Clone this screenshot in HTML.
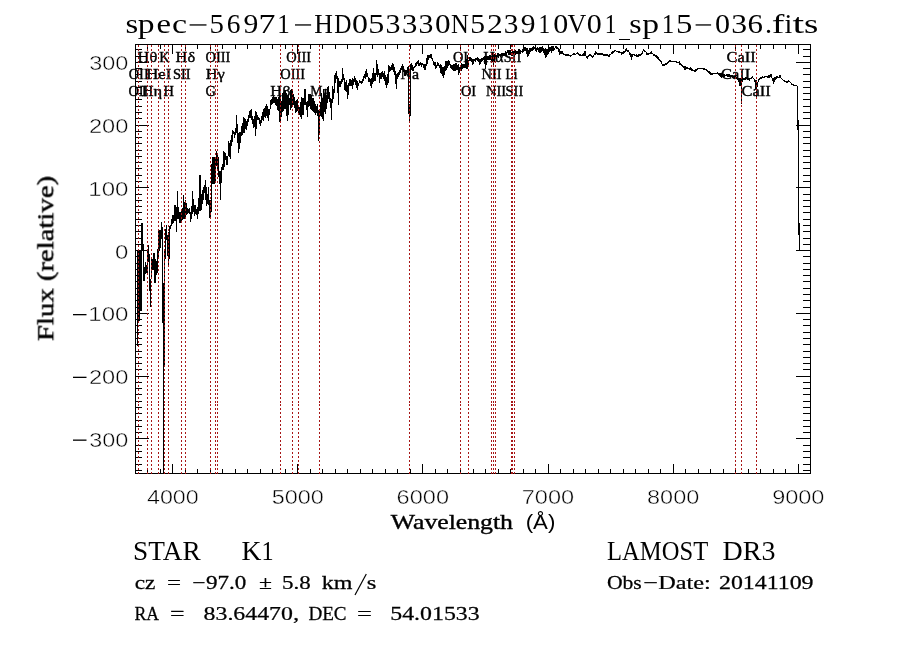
<!DOCTYPE html>
<html><head><meta charset="utf-8"><title>spec-56971-HD053330N523910V01_sp15-036.fits</title>
<style>html,body{margin:0;padding:0;background:#fff;}body{width:900px;height:649px;overflow:hidden;font-family:"Liberation Serif",serif;}svg{display:block;}text{font-family:"Liberation Serif",serif;fill:#000;}.sans{font-family:"Liberation Sans",sans-serif;}</style></head><body>
<svg width="900" height="649" viewBox="0 0 900 649">
<rect x="0" y="0" width="900" height="649" fill="#fff"/>
<g shape-rendering="crispEdges" stroke="#000" stroke-width="1" fill="none">
<rect x="135.5" y="44.5" width="675" height="429"/>
<path d="M147.5 45v4M147.5 473v-4M160.5 45v4M160.5 473v-4M172.5 45v9M172.5 473v-9M185.5 45v4M185.5 473v-4M197.5 45v4M197.5 473v-4M210.5 45v4M210.5 473v-4M222.5 45v4M222.5 473v-4M235.5 45v4M235.5 473v-4M247.5 45v4M247.5 473v-4M260.5 45v4M260.5 473v-4M272.5 45v4M272.5 473v-4M285.5 45v4M285.5 473v-4M297.5 45v9M297.5 473v-9M310.5 45v4M310.5 473v-4M322.5 45v4M322.5 473v-4M335.5 45v4M335.5 473v-4M347.5 45v4M347.5 473v-4M360.5 45v4M360.5 473v-4M372.5 45v4M372.5 473v-4M385.5 45v4M385.5 473v-4M397.5 45v4M397.5 473v-4M410.5 45v4M410.5 473v-4M422.5 45v9M422.5 473v-9M435.5 45v4M435.5 473v-4M447.5 45v4M447.5 473v-4M460.5 45v4M460.5 473v-4M473.5 45v4M473.5 473v-4M485.5 45v4M485.5 473v-4M498.5 45v4M498.5 473v-4M510.5 45v4M510.5 473v-4M523.5 45v4M523.5 473v-4M535.5 45v4M535.5 473v-4M548.5 45v9M548.5 473v-9M560.5 45v4M560.5 473v-4M573.5 45v4M573.5 473v-4M585.5 45v4M585.5 473v-4M598.5 45v4M598.5 473v-4M610.5 45v4M610.5 473v-4M623.5 45v4M623.5 473v-4M635.5 45v4M635.5 473v-4M648.5 45v4M648.5 473v-4M660.5 45v4M660.5 473v-4M673.5 45v9M673.5 473v-9M685.5 45v4M685.5 473v-4M698.5 45v4M698.5 473v-4M710.5 45v4M710.5 473v-4M723.5 45v4M723.5 473v-4M735.5 45v4M735.5 473v-4M748.5 45v4M748.5 473v-4M760.5 45v4M760.5 473v-4M773.5 45v4M773.5 473v-4M785.5 45v4M785.5 473v-4M798.5 45v9M798.5 473v-9M136 470.5h6M810 470.5h-7M136 464.5h6M810 464.5h-7M136 457.5h6M810 457.5h-7M136 451.5h6M810 451.5h-7M136 445.5h6M810 445.5h-7M136 438.5h13M810 438.5h-14M136 432.5h6M810 432.5h-7M136 426.5h6M810 426.5h-7M136 420.5h6M810 420.5h-7M136 413.5h6M810 413.5h-7M136 407.5h6M810 407.5h-7M136 401.5h6M810 401.5h-7M136 394.5h6M810 394.5h-7M136 388.5h6M810 388.5h-7M136 382.5h6M810 382.5h-7M136 376.5h13M810 376.5h-14M136 369.5h6M810 369.5h-7M136 363.5h6M810 363.5h-7M136 357.5h6M810 357.5h-7M136 351.5h6M810 351.5h-7M136 344.5h6M810 344.5h-7M136 338.5h6M810 338.5h-7M136 332.5h6M810 332.5h-7M136 325.5h6M810 325.5h-7M136 319.5h6M810 319.5h-7M136 313.5h13M810 313.5h-14M136 307.5h6M810 307.5h-7M136 300.5h6M810 300.5h-7M136 294.5h6M810 294.5h-7M136 288.5h6M810 288.5h-7M136 281.5h6M810 281.5h-7M136 275.5h6M810 275.5h-7M136 269.5h6M810 269.5h-7M136 263.5h6M810 263.5h-7M136 256.5h6M810 256.5h-7M136 250.5h13M810 250.5h-14M136 244.5h6M810 244.5h-7M136 238.5h6M810 238.5h-7M136 231.5h6M810 231.5h-7M136 225.5h6M810 225.5h-7M136 219.5h6M810 219.5h-7M136 212.5h6M810 212.5h-7M136 206.5h6M810 206.5h-7M136 200.5h6M810 200.5h-7M136 194.5h6M810 194.5h-7M136 187.5h13M810 187.5h-14M136 181.5h6M810 181.5h-7M136 175.5h6M810 175.5h-7M136 168.5h6M810 168.5h-7M136 162.5h6M810 162.5h-7M136 156.5h6M810 156.5h-7M136 150.5h6M810 150.5h-7M136 143.5h6M810 143.5h-7M136 137.5h6M810 137.5h-7M136 131.5h6M810 131.5h-7M136 125.5h13M810 125.5h-14M136 118.5h6M810 118.5h-7M136 112.5h6M810 112.5h-7M136 106.5h6M810 106.5h-7M136 99.5h6M810 99.5h-7M136 93.5h6M810 93.5h-7M136 87.5h6M810 87.5h-7M136 81.5h6M810 81.5h-7M136 74.5h6M810 74.5h-7M136 68.5h6M810 68.5h-7M136 62.5h13M810 62.5h-14M136 56.5h6M810 56.5h-7M136 49.5h6M810 49.5h-7"/>
</g>
<path shape-rendering="crispEdges" stroke="#000" stroke-width="1" fill="none" d="M137.5 250V346M138.5 250V321M139.5 250V321M140.5 250V311M141.5 223V311M142.5 223V251M143.5 244V281M144.5 267V281M145.5 262V274M146.5 265V273M147.5 249V273M148.5 245V262M149.5 254V291M150.5 279V307M151.5 258V279M152.5 259V270M153.5 253V270M154.5 253V283M155.5 259V283M156.5 261V275M157.5 249V273M158.5 230V258M159.5 230V251M160.5 230V248M161.5 222V239M162.5 227V323M163.5 283V473M164.5 251V367M165.5 229V259M166.5 225V240M167.5 235V256M168.5 232V267M169.5 226V259M170.5 225V229M171.5 219V226M172.5 215V224M173.5 215V223M174.5 205V221M175.5 205V221M176.5 207V232M177.5 191V219M178.5 207V219M179.5 212V223M180.5 212V223M181.5 210V221M182.5 208V220M183.5 195V219M184.5 202V219M185.5 200V218M186.5 203V215M187.5 208V214M188.5 209V213M189.5 208V214M190.5 212V222M191.5 206V219M192.5 191V214M193.5 199V212M194.5 205V216M195.5 205V214M196.5 209V215M197.5 207V219M198.5 198V214M199.5 175V211M200.5 175V211M201.5 194V210M202.5 190V204M203.5 187V200M204.5 185V193M205.5 180V200M206.5 187V206M207.5 194V204M208.5 187V205M209.5 200V218M210.5 200V218M211.5 164V212M212.5 157V184M213.5 157V184M214.5 157V184M215.5 157V183M216.5 151V166M217.5 155V170M218.5 157V177M219.5 171V184M220.5 171V200M221.5 167V183M222.5 164V170M223.5 151V170M224.5 152V167M225.5 153V160M226.5 156V165M227.5 156V165M228.5 141V156M229.5 143V157M230.5 140V159M231.5 135V146M232.5 130V142M233.5 131V134M234.5 132V138M235.5 128V135M236.5 115V133M237.5 124V143M238.5 133V153M239.5 132V149M240.5 132V143M241.5 126V136M242.5 123V135M243.5 117V133M244.5 118V133M245.5 119V129M246.5 121V130M247.5 119V126M248.5 115V122M249.5 111V118M250.5 110V118M251.5 109V120M252.5 116V124M253.5 119V128M254.5 116V127M255.5 111V136M256.5 112V129M257.5 115V120M258.5 117V120M259.5 118V124M260.5 120V126M261.5 116V123M262.5 112V120M263.5 109V121M264.5 108V117M265.5 106V118M266.5 104V116M267.5 106V118M268.5 109V121M269.5 109V115M270.5 100V109M271.5 99V105M272.5 97V104M273.5 96V103M274.5 97V103M275.5 97V105M276.5 97V106M277.5 99V110M278.5 97V111M279.5 96V122M280.5 96V122M281.5 101V117M282.5 93V112M283.5 92V111M284.5 90V109M285.5 90V109M286.5 93V116M287.5 95V121M288.5 94V115M289.5 98V105M290.5 90V110M291.5 89V108M292.5 91V105M293.5 94V105M294.5 97V108M295.5 101V113M296.5 100V112M297.5 99V111M298.5 105V113M299.5 107V115M300.5 102V117M301.5 97V119M302.5 98V115M303.5 98V115M304.5 89V105M305.5 89V105M306.5 102V110M307.5 101V117M308.5 94V107M309.5 94V106M310.5 94V109M311.5 95V110M312.5 98V111M313.5 98V112M314.5 101V113M315.5 104V115M316.5 106V113M317.5 104V116M318.5 110V141M319.5 109V133M320.5 102V116M321.5 93V117M322.5 98V119M323.5 89V121M324.5 94V112M325.5 89V114M326.5 95V109M327.5 87V103M328.5 86V99M329.5 92V102M330.5 98V108M331.5 99V120M332.5 86V103M333.5 89V99M334.5 75V93M335.5 73V83M336.5 71V79M337.5 76V93M338.5 78V105M339.5 81V87M340.5 81V87M341.5 79V84M342.5 68V82M343.5 74V80M344.5 78V90M345.5 82V91M346.5 80V92M347.5 85V99M348.5 83V95M349.5 79V86M350.5 79V86M351.5 80V86M352.5 78V89M353.5 79V85M354.5 76V82M355.5 78V85M356.5 80V88M357.5 81V90M358.5 83V86M359.5 80V83M360.5 81V83M361.5 81V84M362.5 79V83M363.5 76V81M364.5 74V78M365.5 71V79M366.5 69V77M367.5 73V77M368.5 77V82M369.5 78V82M370.5 79V86M371.5 78V88M372.5 73V84M373.5 68V82M374.5 73V81M375.5 73V81M376.5 60V75M377.5 64V77M378.5 69V75M379.5 73V83M380.5 73V79M381.5 72V79M382.5 71V77M383.5 73V79M384.5 71V81M385.5 75V85M386.5 77V88M387.5 74V85M388.5 65V83M389.5 66V72M390.5 67V71M391.5 65V70M392.5 63V70M393.5 64V72M394.5 67V75M395.5 71V84M396.5 74V89M397.5 73V79M398.5 72V77M399.5 70V75M400.5 68V73M401.5 66V70M402.5 64V70M403.5 66V72M404.5 70V76M405.5 70V76M406.5 70V74M407.5 67V73M408.5 66V114M409.5 104V122M410.5 64V116M411.5 63V70M412.5 65V71M413.5 67V71M414.5 66V68M415.5 63V67M416.5 62V66M417.5 61V64M418.5 60V66M419.5 63V66M420.5 62V65M421.5 63V67M422.5 63V65M423.5 64V68M424.5 64V70M425.5 64V70M426.5 58V66M427.5 55V64M428.5 55V60M429.5 55V58M430.5 54V58M431.5 54V59M432.5 58V61M433.5 61V65M434.5 62V66M435.5 62V69M436.5 65V68M437.5 62V66M438.5 63V66M439.5 65V68M440.5 64V73M441.5 65V74M442.5 67V76M443.5 67V78M444.5 66V75M445.5 61V71M446.5 61V70M447.5 61V68M448.5 60V66M449.5 61V65M450.5 64V68M451.5 65V69M452.5 65V70M453.5 64V71M454.5 64V71M455.5 63V71M456.5 63V70M457.5 65V70M458.5 64V75M459.5 67V73M460.5 65V69M461.5 63V71M462.5 64V69M463.5 64V68M464.5 64V68M465.5 59V68M466.5 59V69M467.5 55V69M468.5 60V67M469.5 57V61M470.5 57V61M471.5 58V62M472.5 59V65M473.5 59V64M474.5 59V61M475.5 58V62M476.5 58V60M477.5 57V61M478.5 58V62M479.5 59V65M480.5 59V64M481.5 58V62M482.5 58V61M483.5 57V60M484.5 56V64M485.5 56V69M486.5 56V65M487.5 56V60M488.5 57V60M489.5 55V60M490.5 55V60M491.5 57V61M492.5 56V62M493.5 55V65M494.5 54V62M495.5 54V59M496.5 55V59M497.5 53V57M498.5 53V58M499.5 54V56M500.5 54V57M501.5 53V56M502.5 53V56M503.5 53V56M504.5 53V56M505.5 51V56M506.5 52V56M507.5 50V53M508.5 50V55M509.5 50V55M510.5 50V55M511.5 52V56M512.5 50V56M513.5 51V54M514.5 51V55M515.5 50V55M516.5 51V54M517.5 51V54M518.5 49V54M519.5 49V54M520.5 50V54M521.5 51V52M522.5 49V53M523.5 49V52M524.5 47V51M525.5 47V51M526.5 48V54M527.5 48V57M528.5 50V56M529.5 48V54M530.5 48V52M531.5 48V51M532.5 47V51M533.5 46V50M534.5 47V49M535.5 48V51M536.5 48V52M537.5 47V50M538.5 48V52M539.5 47V53M540.5 47V53M541.5 47V52M542.5 46V51M543.5 48V53M544.5 49V55M545.5 48V58M546.5 49V57M547.5 49V55M548.5 47V54M549.5 47V52M550.5 47V51M551.5 46V53M552.5 46V51M553.5 46V51M554.5 48V50M555.5 46V48M556.5 46V49M557.5 47V49M558.5 48V52M559.5 49V55M560.5 51V54M561.5 51V54M562.5 51V54M563.5 53V55M564.5 54V55M565.5 54V56M566.5 54V56M567.5 54V56M568.5 54V56M569.5 55V56M570.5 55V57M571.5 55V56M572.5 54V55M573.5 53V55M574.5 53V55M575.5 54V55M576.5 53V54M577.5 52V54M578.5 53V55M579.5 54V56M580.5 54V56M581.5 55V56M582.5 54V56M583.5 53V56M584.5 51V56M585.5 51V56M586.5 56V58M587.5 56V59M588.5 55V57M589.5 54V56M590.5 54V56M591.5 55V57M592.5 56V58M593.5 55V57M594.5 53V55M595.5 51V55M596.5 52V54M597.5 53V55M598.5 53V55M599.5 53V55M600.5 53V55M601.5 53V55M602.5 53V55M603.5 54V56M604.5 54V56M605.5 54V56M606.5 54V56M607.5 54V56M608.5 55V57M609.5 54V57M610.5 54V55M611.5 52V54M612.5 51V54M613.5 51V53M614.5 50V52M615.5 50V51M616.5 51V52M617.5 51V52M618.5 51V53M619.5 51V53M620.5 52V53M621.5 52V55M622.5 52V54M623.5 51V54M624.5 51V53M625.5 49V52M626.5 48V51M627.5 50V52M628.5 50V52M629.5 52V55M630.5 53V57M631.5 54V60M632.5 54V57M633.5 54V55M634.5 54V56M635.5 55V56M636.5 54V57M637.5 55V57M638.5 54V57M639.5 54V56M640.5 54V56M641.5 53V55M642.5 51V54M643.5 49V51M644.5 50V52M645.5 51V52M646.5 52V55M647.5 53V55M648.5 53V55M649.5 53V54M650.5 52V54M651.5 51V54M652.5 53V54M653.5 54V56M654.5 54V56M655.5 55V57M656.5 55V58M657.5 56V59M658.5 57V60M659.5 59V61M660.5 60V62M661.5 61V64M662.5 64V66M663.5 64V66M664.5 64V66M665.5 63V65M666.5 63V65M667.5 62V64M668.5 61V63M669.5 60V62M670.5 60V62M671.5 61V62M672.5 61V62M673.5 61V62M674.5 61V62M675.5 61V62M676.5 61V63M677.5 62V63M678.5 62V63M679.5 61V65M680.5 63V65M681.5 64V66M682.5 65V67M683.5 66V68M684.5 66V70M685.5 66V70M686.5 67V69M687.5 67V69M688.5 68V69M689.5 68V70M690.5 67V70M691.5 68V71M692.5 69V71M693.5 70V71M694.5 70V72M695.5 69V72M696.5 69V71M697.5 68V70M698.5 68V69M699.5 68V69M700.5 68V69M701.5 68V69M702.5 68V69M703.5 68V70M704.5 68V70M705.5 69V70M706.5 69V71M707.5 70V72M708.5 71V73M709.5 71V74M710.5 72V75M711.5 73V75M712.5 73V75M713.5 73V74M714.5 73V74M715.5 73V74M716.5 73V74M717.5 72V74M718.5 73V75M719.5 73V76M720.5 73V77M721.5 73V78M722.5 73V77M723.5 74V77M724.5 74V77M725.5 75V76M726.5 74V76M727.5 74V77M728.5 74V77M729.5 74V77M730.5 75V77M731.5 75V77M732.5 75V78M733.5 76V77M734.5 76V78M735.5 76V79M736.5 77V79M737.5 77V80M738.5 78V82M739.5 78V86M740.5 78V86M741.5 78V104M742.5 77V82M743.5 78V80M744.5 78V80M745.5 77V80M746.5 77V79M747.5 77V80M748.5 78V80M749.5 78V81M750.5 78V79M751.5 77V79M752.5 76V78M753.5 78V79M754.5 79V82M755.5 80V89M756.5 80V97M757.5 82V87M758.5 79V82M759.5 78V80M760.5 77V79M761.5 77V79M762.5 76V78M763.5 77V78M764.5 76V78M765.5 76V77M766.5 76V77M767.5 76V78M768.5 75V78M769.5 75V78M770.5 74V77M771.5 74V78M772.5 78V81M773.5 78V84M774.5 77V82M775.5 77V80M776.5 76V79M777.5 76V78M778.5 77V78M779.5 75V78M780.5 75V78M781.5 78V79M782.5 79V80M783.5 80V81M784.5 80V82M785.5 81V82M786.5 81V83M787.5 81V83M788.5 80V82M789.5 81V82M790.5 82V83M791.5 83V85M792.5 84V85M793.5 84V86M794.5 85V86M795.5 85V86M796.5 85V86M797.5 86V130M798.5 120V235M799.5 223V250"/>
<g opacity="0.999">
<text transform="translate(138.4 96.0) scale(0.95 1)" font-size="15.2" text-anchor="middle" stroke="#000" stroke-width="0.42">OII</text>
<text transform="translate(138.7 78.7) scale(0.95 1)" font-size="15.2" text-anchor="middle" stroke="#000" stroke-width="0.42">OII</text>
<text transform="translate(147.4 62.0) scale(1.08 1)" font-size="15.2" text-anchor="middle" stroke="#000" stroke-width="0.42">Hθ</text>
<text transform="translate(151.9 96.0) scale(1.08 1)" font-size="15.2" text-anchor="middle" stroke="#000" stroke-width="0.42">Hη</text>
<text transform="translate(158.7 78.7) scale(1.1 1)" font-size="15.2" text-anchor="middle" stroke="#000" stroke-width="0.42">HeI</text>
<text transform="translate(164.4 62.0) scale(0.95 1)" font-size="15.2" text-anchor="middle" stroke="#000" stroke-width="0.42">K</text>
<text transform="translate(168.7 96.0) scale(0.95 1)" font-size="15.2" text-anchor="middle" stroke="#000" stroke-width="0.42">H</text>
<text transform="translate(181.7 78.7) scale(0.95 1)" font-size="15.2" text-anchor="middle" stroke="#000" stroke-width="0.42">SII</text>
<text transform="translate(185.4 62.0) scale(1.08 1)" font-size="15.2" text-anchor="middle" stroke="#000" stroke-width="0.42">Hδ</text>
<text transform="translate(210.7 96.0) scale(0.95 1)" font-size="15.2" text-anchor="middle" stroke="#000" stroke-width="0.42">G</text>
<text transform="translate(215.3 78.7) scale(1.08 1)" font-size="15.2" text-anchor="middle" stroke="#000" stroke-width="0.42">Hγ</text>
<text transform="translate(218.0 62.0) scale(0.95 1)" font-size="15.2" text-anchor="middle" stroke="#000" stroke-width="0.42">OIII</text>
<text transform="translate(280.4 96.0) scale(1.08 1)" font-size="15.2" text-anchor="middle" stroke="#000" stroke-width="0.42">Hβ</text>
<text transform="translate(292.7 78.7) scale(0.95 1)" font-size="15.2" text-anchor="middle" stroke="#000" stroke-width="0.42">OIII</text>
<text transform="translate(298.7 62.0) scale(0.95 1)" font-size="15.2" text-anchor="middle" stroke="#000" stroke-width="0.42">OIII</text>
<text transform="translate(319.7 96.0) scale(0.9 1)" font-size="15.2" text-anchor="middle" stroke="#000" stroke-width="0.42">Mg</text>
<text transform="translate(409.7 78.7) scale(1.05 1)" font-size="15.2" text-anchor="middle" stroke="#000" stroke-width="0.42">Na</text>
<text transform="translate(460.5 62.0) scale(0.95 1)" font-size="15.2" text-anchor="middle" stroke="#000" stroke-width="0.42">OI</text>
<text transform="translate(468.5 96.0) scale(0.95 1)" font-size="15.2" text-anchor="middle" stroke="#000" stroke-width="0.42">OI</text>
<text transform="translate(491.5 78.7) scale(0.95 1)" font-size="15.2" text-anchor="middle" stroke="#000" stroke-width="0.42">NII</text>
<text transform="translate(493.4 62.0) scale(1.08 1)" font-size="15.2" text-anchor="middle" stroke="#000" stroke-width="0.42">Hα</text>
<text transform="translate(496.0 96.0) scale(0.95 1)" font-size="15.2" text-anchor="middle" stroke="#000" stroke-width="0.42">NII</text>
<text transform="translate(511.5 78.7) scale(0.88 1)" font-size="15.2" text-anchor="middle" stroke="#000" stroke-width="0.42">Li</text>
<text transform="translate(512.6 62.0) scale(0.95 1)" font-size="15.2" text-anchor="middle" stroke="#000" stroke-width="0.42">SII</text>
<text transform="translate(514.4 96.0) scale(0.95 1)" font-size="15.2" text-anchor="middle" stroke="#000" stroke-width="0.42">SII</text>
<text transform="translate(735.6 78.7) scale(1.08 1)" font-size="15.2" text-anchor="middle" stroke="#000" stroke-width="0.42">CaII</text>
<text transform="translate(741.1 62.0) scale(1.08 1)" font-size="15.2" text-anchor="middle" stroke="#000" stroke-width="0.42">CaII</text>
<text transform="translate(756.1 96.0) scale(1.08 1)" font-size="15.2" text-anchor="middle" stroke="#000" stroke-width="0.42">CaII</text>
</g>
<path shape-rendering="crispEdges" stroke="#a81616" stroke-width="1" stroke-dasharray="2 2" fill="none" d="M138.5 45V404M138.5 404V474M147.5 45V404M147.5 404V474M151.5 45V404M151.5 404V474M158.5 45V404M158.5 404V474M164.5 45V404M164.5 404V474M168.5 45V404M168.5 404V474M181.5 45V404M181.5 404V474M185.5 45V404M185.5 404V474M210.5 45V404M210.5 404V474M215.5 45V404M215.5 404V474M217.5 45V404M217.5 404V474M280.5 45V404M280.5 404V474M292.5 45V404M292.5 404V474M298.5 45V404M298.5 404V474M319.5 45V404M319.5 404V474M409.5 45V404M409.5 404V474M460.5 45V404M460.5 404V474M468.5 45V404M468.5 404V474M491.5 45V404M491.5 404V474M493.5 45V404M493.5 404V474M495.5 45V404M495.5 404V474M511.5 45V404M511.5 404V474M512.5 45V404M512.5 404V474M514.5 45V404M514.5 404V474M735.5 45V404M735.5 404V474M741.5 45V404M741.5 404V474M756.5 45V404M756.5 404V474"/>
<g opacity="0.999">
<text transform="translate(125.59 32.7) scale(1.1688 1)" font-size="28">s</text>
<text transform="translate(137.78 32.7) scale(1.2000 1)" font-size="28">p</text>
<text transform="translate(156.56 32.7) scale(1.1689 1)" font-size="28">e</text>
<text transform="translate(172.01 32.7) scale(1.2118 1)" font-size="28">c</text>
<rect x="189.6" y="24.3" width="16.900000000000006" height="1.3" fill="#000"/>
<text transform="translate(209.43 32.7) scale(1.0697 1)" font-size="27">5</text>
<text transform="translate(226.66 32.7) scale(1.0151 1)" font-size="27">6</text>
<text transform="translate(243.51 32.7) scale(1.1011 1)" font-size="27">9</text>
<text transform="translate(258.40 32.7) scale(1.2545 1)" font-size="27">7</text>
<text transform="translate(277.26 32.7) scale(0.9247 1)" font-size="27">1</text>
<rect x="295" y="24.3" width="16.100000000000023" height="1.3" fill="#000"/>
<text transform="translate(314.28 32.7) scale(0.9556 1)" font-size="27">H</text>
<text transform="translate(334.34 32.7) scale(0.8820 1)" font-size="27">D</text>
<text transform="translate(351.92 32.7) scale(1.1826 1)" font-size="27">0</text>
<text transform="translate(368.14 32.7) scale(1.1886 1)" font-size="27">5</text>
<text transform="translate(385.51 32.7) scale(1.1111 1)" font-size="27">3</text>
<text transform="translate(401.88 32.7) scale(1.1378 1)" font-size="27">3</text>
<text transform="translate(418.62 32.7) scale(1.1022 1)" font-size="27">3</text>
<text transform="translate(434.94 32.7) scale(1.1565 1)" font-size="27">0</text>
<text transform="translate(451.02 32.7) scale(0.9127 1)" font-size="27">N</text>
<text transform="translate(470.19 32.7) scale(1.0971 1)" font-size="27">5</text>
<text transform="translate(486.98 32.7) scale(1.1703 1)" font-size="27">2</text>
<text transform="translate(503.84 32.7) scale(1.0844 1)" font-size="27">3</text>
<text transform="translate(520.81 32.7) scale(1.0925 1)" font-size="27">9</text>
<text transform="translate(538.61 32.7) scale(0.8623 1)" font-size="27">1</text>
<text transform="translate(553.29 32.7) scale(1.1130 1)" font-size="27">0</text>
<text transform="translate(567.56 32.7) scale(0.9632 1)" font-size="27">V</text>
<text transform="translate(586.69 32.7) scale(1.1130 1)" font-size="27">0</text>
<text transform="translate(604.71 32.7) scale(0.8623 1)" font-size="27">1</text>
<rect x="619.4" y="39" width="10.600000000000023" height="1" fill="#000" shape-rendering="crispEdges"/>
<text transform="translate(629.32 32.7) scale(1.1348 1)" font-size="28">s</text>
<text transform="translate(642.27 32.7) scale(1.2000 1)" font-size="28">p</text>
<text transform="translate(661.76 32.7) scale(0.9247 1)" font-size="27">1</text>
<text transform="translate(675.90 32.7) scale(1.2160 1)" font-size="27">5</text>
<rect x="695.6" y="24.3" width="15.5" height="1.3" fill="#000"/>
<text transform="translate(714.99 32.7) scale(1.1130 1)" font-size="27">0</text>
<text transform="translate(731.33 32.7) scale(1.1733 1)" font-size="27">3</text>
<text transform="translate(747.61 32.7) scale(1.1441 1)" font-size="27">6</text>
<text transform="translate(765.07 32.7) scale(1.0462 1)" font-size="27">.</text>
<text transform="translate(771.70 32.7) scale(1.3547 1)" font-size="28">f</text>
<text transform="translate(784.44 32.7) scale(1.0019 1)" font-size="28">i</text>
<text transform="translate(792.42 32.7) scale(1.5051 1)" font-size="28">t</text>
<text transform="translate(804.12 32.7) scale(1.3163 1)" font-size="28">s</text>
<text transform="translate(146.96 503.6) scale(1.1184 1)" font-size="20.8" class="sans" stroke="#fff" stroke-width="0.45">4000</text>
<text transform="translate(271.68 503.6) scale(1.1278 1)" font-size="20.8" class="sans" stroke="#fff" stroke-width="0.45">5000</text>
<text transform="translate(396.62 503.6) scale(1.1326 1)" font-size="20.8" class="sans" stroke="#fff" stroke-width="0.45">6000</text>
<text transform="translate(521.69 503.6) scale(1.1342 1)" font-size="20.8" class="sans" stroke="#fff" stroke-width="0.45">7000</text>
<text transform="translate(647.06 503.6) scale(1.1294 1)" font-size="20.8" class="sans" stroke="#fff" stroke-width="0.45">8000</text>
<text transform="translate(772.14 503.6) scale(1.1310 1)" font-size="20.8" class="sans" stroke="#fff" stroke-width="0.45">9000</text>
<text transform="translate(89.25 446.9) scale(1.1269 1)" font-size="20.8" class="sans" stroke="#fff" stroke-width="0.45">300</text>
<rect x="73" y="439.5" width="13.5" height="1.3" fill="#000"/>
<text transform="translate(88.96 384.1) scale(1.1355 1)" font-size="20.8" class="sans" stroke="#fff" stroke-width="0.45">200</text>
<rect x="73" y="376.7" width="13.5" height="1.3" fill="#000"/>
<text transform="translate(88.29 321.4) scale(1.1552 1)" font-size="20.8" class="sans" stroke="#fff" stroke-width="0.45">100</text>
<rect x="73" y="314.0" width="13.5" height="1.3" fill="#000"/>
<text transform="translate(115.07 258.6) scale(1.1500 1)" font-size="20.8" class="sans" stroke="#fff" stroke-width="0.45">0</text>
<text transform="translate(88.29 195.8) scale(1.1552 1)" font-size="20.8" class="sans" stroke="#fff" stroke-width="0.45">100</text>
<text transform="translate(88.96 133.1) scale(1.1355 1)" font-size="20.8" class="sans" stroke="#fff" stroke-width="0.45">200</text>
<text transform="translate(89.25 70.3) scale(1.1269 1)" font-size="20.8" class="sans" stroke="#fff" stroke-width="0.45">300</text>
<text transform="translate(390.80 529.2) scale(1.1966 1)" font-size="21.5" stroke="#000" stroke-width="0.4">Wavelength</text>
<text transform="translate(525.68 529.2) scale(1.1134 1)" font-size="20" class="sans">(Å)</text>
<text transform="translate(53.3 341.10) rotate(-90) scale(1.2783 1)" font-size="22.5" stroke="#000" stroke-width="0.4">Flux (relative)</text>
<text transform="translate(133.12 559.6) scale(1.0182 1)" font-size="26.8">STAR</text>
<text transform="translate(241.43 559.6) scale(1.0286 1)" font-size="26.8">K</text>
<text transform="translate(261.51 559.6) scale(0.9053 1)" font-size="26.8">1</text>
<text transform="translate(607.11 559.6) scale(0.9174 1)" font-size="26.8">LAMOST</text>
<text transform="translate(722.52 559.6) scale(1.0455 1)" font-size="26.8">DR3</text>
<text transform="translate(134.75 589.4) scale(1.2402 1)" font-size="18.8" stroke="#000" stroke-width="0.25">cz</text>
<text transform="translate(167.04 589.4) scale(1.3296 1)" font-size="18.8" stroke="#000" stroke-width="0.25">=</text>
<text transform="translate(192.21 589.4) scale(1.2507 1)" font-size="18.8" stroke="#000" stroke-width="0.25">−</text>
<text transform="translate(206.01 589.4) scale(1.2276 1)" font-size="18.8" stroke="#000" stroke-width="0.25">97.0</text>
<text transform="translate(259.06 589.4) scale(1.2596 1)" font-size="18.8" stroke="#000" stroke-width="0.25">±</text>
<text transform="translate(282.00 589.4) scale(1.2241 1)" font-size="18.8" stroke="#000" stroke-width="0.25">5.8</text>
<text transform="translate(321.80 589.4) scale(1.2800 1)" font-size="18.8" stroke="#000" stroke-width="0.25">km</text>
<text transform="translate(366.81 589.4) scale(1.3137 1)" font-size="18.8" stroke="#000" stroke-width="0.25">s</text>
<path d="M355 595L366.3 574" stroke="#000" stroke-width="1.2" fill="none"/>
<text transform="translate(134.43 619.8) scale(0.9389 1)" font-size="18.8" stroke="#000" stroke-width="0.25">RA</text>
<text transform="translate(169.90 619.8) scale(1.3746 1)" font-size="18.8" stroke="#000" stroke-width="0.25">=</text>
<text transform="translate(203.53 619.8) scale(1.2690 1)" font-size="18.8" stroke="#000" stroke-width="0.25">83.64470</text>
<text transform="translate(293.09 619.8) scale(1.3217 1)" font-size="18.8" stroke="#000" stroke-width="0.25">,</text>
<text transform="translate(308.39 619.8) scale(1.0159 1)" font-size="18.8" stroke="#000" stroke-width="0.25">DEC</text>
<text transform="translate(356.97 619.8) scale(1.4085 1)" font-size="18.8" stroke="#000" stroke-width="0.25">=</text>
<text transform="translate(390.25 619.8) scale(1.2698 1)" font-size="18.8" stroke="#000" stroke-width="0.25">54.01533</text>
<text transform="translate(606.94 589.4) scale(1.1508 1)" font-size="18.8" stroke="#000" stroke-width="0.25">Obs</text>
<text transform="translate(643.19 589.4) scale(1.3859 1)" font-size="18.8" stroke="#000" stroke-width="0.25">−</text>
<text transform="translate(658.25 589.4) scale(1.2903 1)" font-size="18.8" stroke="#000" stroke-width="0.25">Date:</text>
<text transform="translate(718.97 589.4) scale(1.2699 1)" font-size="18.8" stroke="#000" stroke-width="0.25">20141109</text>
</g>
</svg></body></html>
